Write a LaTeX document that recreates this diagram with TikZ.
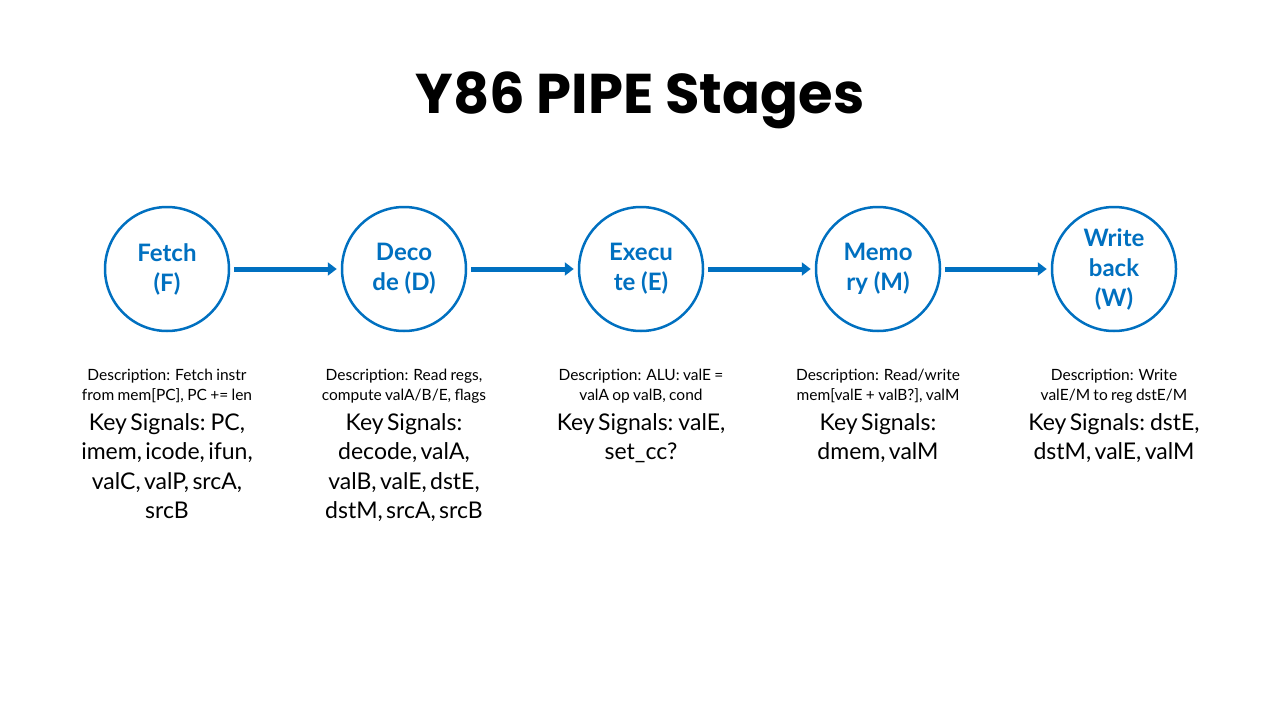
\documentclass[tikz,border=0pt]{standalone}
\usepackage{fontspec}
\setmainfont{Lato}
\newfontfamily\titlefont{Poppins}
\usetikzlibrary{arrows.meta}
\definecolor{pblue}{HTML}{0070C0}
\begin{document}
\begin{tikzpicture}[x=1pt,y=-1pt,
  stage/.style={circle,draw=pblue,line width=2.5pt,fill=white,minimum size=124pt,inner sep=0pt,align=center,text=pblue,font=\fontsize{24}{30}\selectfont\bfseries},
  flow/.style={draw=pblue,line width=5pt,-{Triangle[length=9pt,width=13pt]}},
  info/.style={anchor=north,align=center,text width=215pt}]
\useasboundingbox (0,0) rectangle (1280,720);
\node[font=\titlefont\fontsize{56}{60}\selectfont\bfseries] (title) at (640,100) {Y86 PIPE Stages};
\foreach \n/\x/\t in {f/167/{Fetch\\(F)},d/404/{Deco\\de (D)},e/641/{Execu\\te (E)},m/878/{Memo\\ry (M)},w/1114/{Write\\back\\(W)}}{
  \node[stage] (\n) at (\x,269) {\t};
}
\foreach \a/\b in {f/d,d/e,e/m,m/w}{\draw[flow] ([xshift=4pt]\a.east) -- ([xshift=-4pt]\b.west);}
\newcommand\dsc[2]{{\fontsize{15.5}{20}\selectfont #1\par}{\fontsize{23}{29.5}\selectfont #2\par}}
\node[info] (fi) at (167,366) {\dsc{Description: Fetch instr\\from mem[PC], PC += len}{Key Signals: PC,\\imem, icode, ifun,\\valC, valP, srcA,\\srcB}};
\node[info] (di) at (404,366) {\dsc{Description: Read regs,\\compute valA/B/E, flags}{Key Signals:\\decode, valA,\\valB, valE, dstE,\\dstM, srcA, srcB}};
\node[info] (ei) at (641,366) {\dsc{Description: ALU: valE =\\valA op valB, cond}{Key Signals: valE,\\set\_cc?}};
\node[info] (mi) at (878,366) {\dsc{Description: Read/write\\mem[valE + valB?], valM}{Key Signals:\\dmem, valM}};
\node[info] (wi) at (1114,366) {\dsc{Description: Write\\valE/M to reg dstE/M}{Key Signals: dstE,\\dstM, valE, valM}};
\end{tikzpicture}
\end{document}
